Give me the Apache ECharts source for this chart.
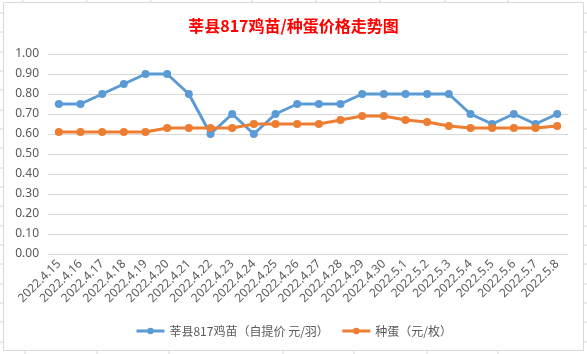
<!DOCTYPE html>
<html>
<head>
<meta charset="utf-8">
<script src="https://cdn.jsdelivr.net/npm/echarts@6/dist/echarts.min.js"></script>
<style>
  html, body { margin: 0; padding: 0; background: #fff; }
  #main { width: 587px; height: 354px; }
</style>
</head>
<body>
<div id="main"></div>
<script>
  // 日期
  var dates = ['2022.4.15', '2022.4.16', '2022.4.17', '2022.4.18', '2022.4.19', '2022.4.20',
    '2022.4.21', '2022.4.22', '2022.4.23', '2022.4.24', '2022.4.25', '2022.4.26',
    '2022.4.27', '2022.4.28', '2022.4.29', '2022.4.30', '2022.5.1', '2022.5.2',
    '2022.5.3', '2022.5.4', '2022.5.5', '2022.5.6', '2022.5.7', '2022.5.8'];
  // 鸡苗价格
  var chickPrice = [0.75, 0.75, 0.80, 0.85, 0.90, 0.90, 0.80, 0.60, 0.70, 0.60, 0.70, 0.75,
    0.75, 0.75, 0.80, 0.80, 0.80, 0.80, 0.80, 0.70, 0.65, 0.70, 0.65, 0.70];
  // 种蛋价格
  var eggPrice = [0.61, 0.61, 0.61, 0.61, 0.61, 0.63, 0.63, 0.63, 0.63, 0.65, 0.65, 0.65,
    0.65, 0.67, 0.69, 0.69, 0.67, 0.66, 0.64, 0.63, 0.63, 0.63, 0.63, 0.64];
  var seriesNames = ['莘县817鸡苗（自提价 元/羽）', '种蛋（元/枚）'];

  var myChart = echarts.init(document.getElementById('main'));

  // 表格背景的格线
  var sheetLines = [];
  [13, 32, 52, 71, 90, 110, 129, 148, 168, 187, 206, 226, 245, 264, 284, 303, 322, 342].forEach(function (y) {
    sheetLines.push({ type: 'line', shape: { x1: 0, y1: y, x2: 3, y2: y }, style: { stroke: '#d4d4e0', lineWidth: 1 } });
    sheetLines.push({ type: 'line', shape: { x1: 584, y1: y, x2: 587, y2: y }, style: { stroke: '#d4d4e0', lineWidth: 1 } });
  });
  [23, 87, 151, 252, 316, 380, 445, 508].forEach(function (x) {
    sheetLines.push({ type: 'line', shape: { x1: x, y1: 0, x2: x, y2: 2 }, style: { stroke: '#d4d4e0', lineWidth: 1 } });
  });
  [25, 97, 169, 283, 354, 427, 498].forEach(function (x) {
    sheetLines.push({ type: 'line', shape: { x1: x, y1: 351, x2: x, y2: 354 }, style: { stroke: '#d4d4e0', lineWidth: 1 } });
  });
  sheetLines.push({
    type: 'rect', shape: { x: 3.5, y: 2.5, width: 580, height: 348 },
    style: { fill: 'none', stroke: '#d9d9d9', lineWidth: 1 }, z: -1
  });

  var option = {
    backgroundColor: '#fff',
    //        标题
    title: {
      text: '莘县817鸡苗/种蛋价格走势图',
      left: 'center',
      top: 13,
      textStyle: {
        color: '#ff0000',
        fontSize: 16,
        fontWeight: 'bold',
        fontFamily: 'Noto Sans CJK SC'
      }
    },
    graphic: sheetLines,
    legend: {
      bottom: 12,
      left: 'center',
      itemWidth: 28,
      itemHeight: 8,
      itemGap: 12,
      lineStyle: { width: 3 },
      textStyle: { color: '#595959', fontSize: 12, fontFamily: 'Noto Sans CJK SC' },
      data: seriesNames
    },
    grid: {
      left: 48,
      right: 19,
      top: 54,
      bottom: 100,
      containLabel: false
    },
    xAxis: {
      type: 'category',
      data: dates,
      boundaryGap: true,
      axisLine: { lineStyle: { color: '#d9d9d9' } },
      axisTick: { show: false },
      axisLabel: {
        rotate: 45,
        interval: 0,
        color: '#595959',
        fontSize: 12,
        margin: 8,
        fontFamily: 'Noto Sans'
      }
    },
    yAxis: {
      type: 'value',
      min: 0,
      max: 1,
      interval: 0.1,
      axisLine: { show: false },
      axisTick: { show: false },
      splitLine: { lineStyle: { color: '#d9d9d9' } },
      axisLabel: {
        color: '#595959',
        fontSize: 12,
        margin: 9,
        fontFamily: 'Noto Sans',
        formatter: function (v) { return v.toFixed(2); }
      }
    },
    series: [
      {
        name: seriesNames[0],
        type: 'line',
        data: chickPrice,
        symbol: 'circle',
        symbolSize: 8,
        color: '#5b9bd5',
        lineStyle: { width: 3 }
      },
      {
        name: seriesNames[1],
        type: 'line',
        data: eggPrice,
        symbol: 'circle',
        symbolSize: 8,
        color: '#ed7d31',
        lineStyle: { width: 3 }
      }
    ]
  };
  myChart.setOption(option);
</script>
</body>
</html>
